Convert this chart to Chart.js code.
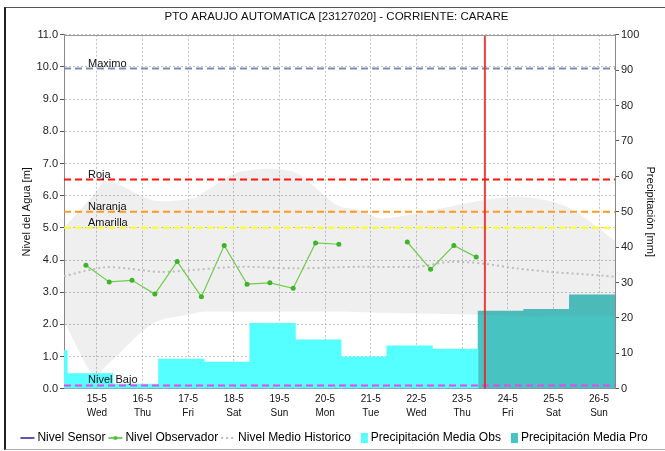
<!DOCTYPE html>
<html>
<head>
<meta charset="utf-8">
<script src="https://cdn.jsdelivr.net/npm/chart.js@4.4.1/dist/chart.umd.min.js"></script>
<style>
  html, body { margin: 0; padding: 0; background: #fff; }
  #wrap { position: relative; width: 665px; height: 451px; }
  #frame { position: absolute; left: 4px; top: 7px; right: 0; bottom: 1px; border-left: 2px solid #222; border-top: 1px solid #555; border-bottom: 1px solid #aaa; pointer-events: none; }
  canvas { position: absolute; left: 0; top: 0; }
</style>
</head>
<body>
<div id="wrap">
  <canvas id="chart" width="665" height="451"></canvas>
  <div id="frame"></div>
</div>
<script>
// x axis: days counted from 15-5 (0) to 26-5 (11)
const dayLabels = ['15-5', '16-5', '17-5', '18-5', '19-5', '20-5', '21-5', '22-5', '23-5', '24-5', '25-5', '26-5'];
const weekdays = ['Wed', 'Thu', 'Fri', 'Sat', 'Sun', 'Mon', 'Tue', 'Wed', 'Thu', 'Fri', 'Sat', 'Sun'];
const xMin = -0.72;
const xMax = 11.35;

// Nivel Observador [m] (two readings a day, gap on 21-5)
const obsDays = [-0.24, 0.27, 0.77, 1.27, 1.76, 2.29, 2.79, 3.29, 3.79, 4.30, 4.79, 5.30, 5.80, 6.30, 6.80, 7.31, 7.82, 8.31];
const obsLevels = [3.84, 3.32, 3.37, 2.94, 3.95, 2.86, 4.45, 3.25, 3.29, 3.12, 4.53, 4.49, null, null, 4.56, 3.71, 4.45, 4.09];

// Nivel Medio Historico [m]
const histDays = [-0.72, 0.14, 0.65, 1.38, 2.10, 3.14, 4.30, 5.77, 7.01, 7.74, 8.46, 9.20, 9.93, 10.66, 11.35];
const histLevels = [3.50, 3.77, 3.74, 3.63, 3.69, 3.79, 3.74, 3.79, 3.79, 3.94, 3.89, 3.74, 3.63, 3.56, 3.48];

// historic range band [m]
const bandDays = [-0.72, -0.05, 0.21, 1.23, 2.11, 2.32, 3.14, 4.30, 5.26, 5.77, 6.27, 8.46, 9.34, 10.31, 11.35];
const bandMax = [5.00, 6.06, 6.48, 5.86, 5.91, 6.08, 6.74, 6.74, 5.70, 5.55, 5.29, 5.86, 5.96, 5.65, 4.60];
const bandMin = [2.10, 0.37, 0.71, 2.03, 2.33, 2.39, 2.39, 2.40, 2.40, 2.38, 2.36, 2.30, 2.25, 2.25, 2.25];

// precipitation [mm], one bar per day period
const rainObsDays = [-1.15, -0.15, 0.85, 1.85, 2.85, 3.85, 4.85, 5.85, 6.85, 7.85];
const rainObsMm = [10.8, 4.3, 1.3, 8.4, 7.5, 18.5, 13.8, 9.0, 12.1, 11.2];
const rainProDays = [8.85, 9.85, 10.85];
const rainProMm = [21.9, 22.4, 26.5];

// alert levels [m]
const thresholdNames = ['Maximo', 'Roja', 'Naranja', 'Amarilla', 'Nivel Bajo'];
const thresholdLevels = [9.95, 6.5, 5.5, 5.0, 0.1];
const thresholdColors = ['#7d8cb4', '#ff1414', '#ff9a22', '#ffff1e', '#ee44ee'];

// current time marker
const nowDay = 8.5;

Chart.defaults.font.family = "'Liberation Sans', Arial, Helvetica, sans-serif";
Chart.defaults.color = '#222';

// small legend symbols (drawn wider than the legend box so the gap to the text stays small)
function makeIcon(kind, color) {
    const c = document.createElement('canvas');
    c.width = 22;
    c.height = 12;
    const g = c.getContext('2d');
    g.strokeStyle = color;
    g.fillStyle = color;
    if (kind === 'box') {
        g.fillRect(10, 1, 7, 10);
    } else {
        g.lineWidth = kind === 'dots' ? 2 : 1.5;
        if (kind === 'dots') g.setLineDash([2, 3]);
        g.beginPath();
        g.moveTo(3, 6);
        g.lineTo(17, 6);
        g.stroke();
        if (kind === 'dot') {
            g.beginPath();
            g.arc(10, 6, 2, 0, Math.PI * 2);
            g.fill();
        }
    }
    return c;
}

const toPoints = (xs, ys) => xs.map((x, i) => ({ x: x, y: ys[i] }));

const datasets = [
    {
        label: 'Nivel Sensor', data: [], borderColor: '#22229a', pointRadius: 0,
        legendIcon: makeIcon('line', '#22229a'), order: 1
    },
    {
        label: 'Nivel Observador', data: toPoints(obsDays, obsLevels),
        borderColor: '#72cc50', borderWidth: 1.2, pointRadius: 2.5,
        pointBackgroundColor: '#3cb52a', pointBorderWidth: 0, spanGaps: false,
        legendIcon: makeIcon('dot', '#4cbf30'), order: 1
    },
    {
        label: 'Nivel Medio Historico', data: toPoints(histDays, histLevels),
        borderColor: '#bdbdbd', borderWidth: 2, borderDash: [2, 3], pointRadius: 0, tension: 0.3,
        legendIcon: makeIcon('dots', '#bbbbbb'), order: 3
    },
    {
        label: 'Precipitación Media Obs', type: 'bar', yAxisID: 'y1',
        data: toPoints(rainObsDays, rainObsMm), backgroundColor: '#55ffff', borderWidth: 0,
        grouped: false, barPercentage: 1, categoryPercentage: 1, clip: 0,
        legendIcon: makeIcon('box', '#55ffff'), order: 6
    },
    {
        label: 'Precipitación Media Pro', type: 'bar', yAxisID: 'y1',
        data: toPoints(rainProDays, rainProMm), backgroundColor: '#47c4c2', borderWidth: 0,
        grouped: false, barPercentage: 1, categoryPercentage: 1, clip: 0,
        legendIcon: makeIcon('box', '#47c4c2'), order: 6
    },
    {
        label: 'Rango max', data: toPoints(bandDays, bandMax), fill: '+1',
        backgroundColor: 'rgba(110,110,110,0.11)', borderColor: 'transparent', borderWidth: 0,
        pointRadius: 0, tension: 0.3, order: 5
    },
    {
        label: 'Rango min', data: toPoints(bandDays, bandMin), fill: false,
        borderColor: 'transparent', borderWidth: 0, pointRadius: 0, tension: 0.3, order: 5
    }
];

thresholdNames.forEach((name, i) => {
    datasets.push({
        label: name,
        data: [{ x: xMin, y: thresholdLevels[i] }, { x: xMax, y: thresholdLevels[i] }],
        borderColor: thresholdColors[i], borderWidth: 2, borderDash: [7, 4], pointRadius: 0, order: 2
    });
});

datasets.push({
    label: 'Ahora', data: [{ x: nowDay, y: 0 }, { x: nowDay, y: 11 }],
    borderColor: 'rgba(240,30,30,0.85)', borderWidth: 2, pointRadius: 0, order: 0
});

// text over the alert lines
const thresholdLabelPlugin = {
    id: 'thresholdLabels',
    afterDatasetsDraw(chart) {
        const ctx = chart.ctx;
        const yScale = chart.scales.y;
        ctx.save();
        ctx.font = "11px 'Liberation Sans', Arial, sans-serif";
        ctx.fillStyle = '#111';
        ctx.textAlign = 'left';
        ctx.textBaseline = 'alphabetic';
        thresholdNames.forEach((name, i) => {
            const y = yScale.getPixelForValue(thresholdLevels[i]);
            ctx.fillText(name, chart.chartArea.left + 24, y - 2);
        });
        ctx.restore();
    }
};

// top edge of the plot box
const plotTopPlugin = {
    id: 'plotTop',
    afterDatasetsDraw(chart) {
        const { ctx, chartArea } = chart;
        ctx.save();
        ctx.strokeStyle = '#999';
        ctx.lineWidth = 1;
        ctx.beginPath();
        ctx.moveTo(chartArea.left, Math.round(chartArea.top) + 0.5);
        ctx.lineTo(chartArea.right, Math.round(chartArea.top) + 0.5);
        ctx.stroke();
        ctx.restore();
    }
};

const ctx = document.getElementById('chart').getContext('2d');
new Chart(ctx, {
    type: 'line',
    data: { datasets: datasets },
    options: {
        responsive: false,
        animation: false,
        layout: { padding: { left: 8, right: 0, top: 10, bottom: -3 } },
        plugins: {
            title: {
                display: true,
                text: 'PTO ARAUJO AUTOMATICA [23127020] - CORRIENTE: CARARE',
                font: { size: 11.5, weight: 'normal' },
                color: '#111',
                padding: { top: 0, bottom: 11 }
            },
            legend: {
                position: 'bottom',
                labels: {
                    usePointStyle: true,
                    pointStyleWidth: 6,
                    padding: 8,
                    color: '#111',
                    font: { size: 12 },
                    generateLabels: function (chart) {
                        return chart.data.datasets
                            .map((ds, i) => ({ ds: ds, i: i }))
                            .filter(o => o.ds.legendIcon)
                            .map(o => ({
                                text: o.ds.label,
                                pointStyle: o.ds.legendIcon,
                                fillStyle: 'transparent',
                                strokeStyle: 'transparent',
                                lineWidth: 0,
                                hidden: false,
                                datasetIndex: o.i
                            }));
                    }
                }
            },
            tooltip: { enabled: false }
        },
        scales: {
            x: {
                type: 'linear', min: xMin, max: xMax, offset: false,
                afterFit: function (scale) { scale.height = 35.3; },
                grid: { color: '#c4c4c4', drawTicks: false, offset: false },
                border: { color: '#888', dash: [2, 2] },
                ticks: {
                    stepSize: 1, includeBounds: false, autoSkip: false, maxRotation: 0, padding: 4,
                    color: '#111', font: { size: 10, lineHeight: 1.35 },
                    callback: function (value) {
                        const i = Math.round(value);
                        return [dayLabels[i], weekdays[i]];
                    }
                }
            },
            y: {
                position: 'left', min: 0, max: 11,
                afterFit: function (scale) { scale.width = 56; },
                grid: { color: '#c4c4c4', tickLength: 4, tickColor: '#555', tickBorderDash: [] },
                border: { color: '#888', dash: [2, 2] },
                ticks: {
                    stepSize: 0.5, padding: 2, color: '#222', font: { size: 11 },
                    callback: function (value) { return value.toFixed(1); }
                },
                title: {
                    display: true, text: 'Nivel del Agua [m]', color: '#111',
                    font: { size: 11 }, padding: { top: 12, bottom: 0 }
                }
            },
            y1: {
                position: 'right', min: 0, max: 100,
                afterFit: function (scale) { scale.width = 50; },
                grid: { drawOnChartArea: false, tickLength: 4, tickColor: '#555' },
                border: { color: '#888' },
                ticks: { stepSize: 10, padding: 2, color: '#222', font: { size: 11 } },
                title: {
                    display: true, text: 'Precipitación [mm]', color: '#111',
                    font: { size: 11 }, padding: { top: 8, bottom: 0 }
                }
            }
        }
    },
    plugins: [thresholdLabelPlugin, plotTopPlugin]
});
</script>
</body>
</html>
